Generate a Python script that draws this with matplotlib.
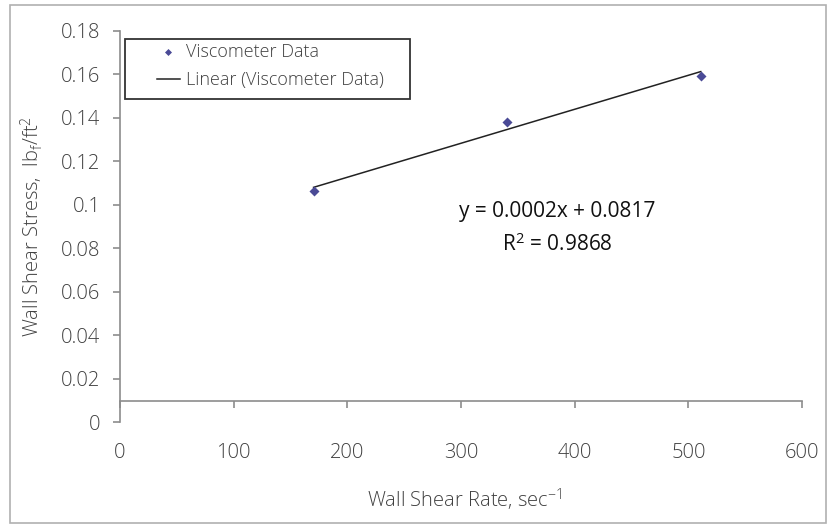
import numpy as np
import matplotlib
matplotlib.use("Agg")
import matplotlib.pyplot as plt
from matplotlib.patches import Rectangle

plt.rcParams['font.family'] = ['Open Sans', 'DejaVu Sans']
plt.rcParams['font.weight'] = 'light'
plt.rcParams['mathtext.fontset'] = 'custom'
plt.rcParams['mathtext.rm'] = 'Open Sans:light'
plt.rcParams['mathtext.it'] = 'Open Sans:light'

# viscometer readings
shear_rate = [170.3, 340.6, 510.9]
shear_stress = [0.1062, 0.1382, 0.1594]

x_ticks = [0, 100, 200, 300, 400, 500, 600]
y_ticks = [0, 0.02, 0.04, 0.06, 0.08, 0.1, 0.12, 0.14, 0.16, 0.18]
y_labels = ['0', '0.02', '0.04', '0.06', '0.08', '0.1', '0.12', '0.14', '0.16', '0.18']

eq_text = 'y = 0.0002x + 0.0817'
r2_text = 'R$^\\mathregular{2}$ = 0.9868'

axis_col = '#8c8c8c'
txt_col = '#404040'

fig = plt.figure(figsize=(8.27, 5.25), dpi=100)
ax = fig.add_axes([120/827, (525-422.3)/525, 682/827, 391.6/525])

# trendline (least squares)
coef = np.polyfit(shear_rate, shear_stress, 1)
xs = np.array([shear_rate[0], shear_rate[-1]])
ax.plot(xs, np.polyval(coef, xs), color='#222222', lw=1.1,
        label='Linear (Viscometer Data)', zorder=2)
ax.scatter(shear_rate, shear_stress, marker='D', s=26, color='#4a4a96',
           label='Viscometer Data', zorder=3, linewidths=0)

ax.set_xlim(0, 600)
ax.set_ylim(0, 0.18)
ax.set_xticks(x_ticks)
ax.set_yticks(y_ticks)
ax.set_yticklabels(y_labels)

for s in ['top', 'right']:
    ax.spines[s].set_visible(False)
ax.spines['bottom'].set_position(('data', 0.0098))
for s in ['bottom', 'left']:
    ax.spines[s].set_color(axis_col)
    ax.spines[s].set_linewidth(1.2)

ax.tick_params(axis='x', direction='out', length=5, width=1.2, color=axis_col,
               labelsize=14.5, labelcolor=txt_col, pad=25)
ax.tick_params(axis='y', direction='out', length=5, width=1.2, color=axis_col,
               labelsize=14.5, labelcolor=txt_col, pad=9)

fig.text(465/827, (525-500)/525, 'Wall Shear Rate, sec$^\\mathregular{-1}$',
         ha='center', va='center', fontsize=14.5, color=txt_col)
fig.text(32/827, (525-226)/525,
         'Wall Shear Stress,  lb$_\\mathregular{f}$/ft$^\\mathregular{2}$',
         ha='center', va='center', rotation=90, fontsize=14.5, color=txt_col)

ax.text(384.5, 0.0967, eq_text, ha='center', va='center', fontsize=15,
        color='#111111', fontweight='normal')
ax.text(384.5, 0.0815, r2_text, ha='center', va='center', fontsize=15,
        color='#111111', fontweight='normal')

# legend without frame, box drawn separately to get Excel's padding
handles, labels = ax.get_legend_handles_labels()
leg = ax.legend(handles[::-1], labels[::-1], loc='upper left',
                bbox_to_anchor=(0.0543, 0.969), borderaxespad=0,
                fontsize=13, frameon=False, handlelength=1.27,
                handletextpad=0.33, borderpad=0, labelspacing=0.58,
                scatterpoints=1, markerscale=0.7)
for t in leg.get_texts():
    t.set_color(txt_col)
ax.add_patch(Rectangle((0.0073, 0.8256), 0.418, 0.1532, transform=ax.transAxes,
                       fill=False, edgecolor='#333333', lw=1.3, zorder=4))

fig.patches.append(Rectangle((10/827, 2/525), 816/827, 518/525,
                             transform=fig.transFigure, fill=False,
                             edgecolor='#b0b0b0', lw=1.2))

fig.savefig('out.png', dpi=100)
